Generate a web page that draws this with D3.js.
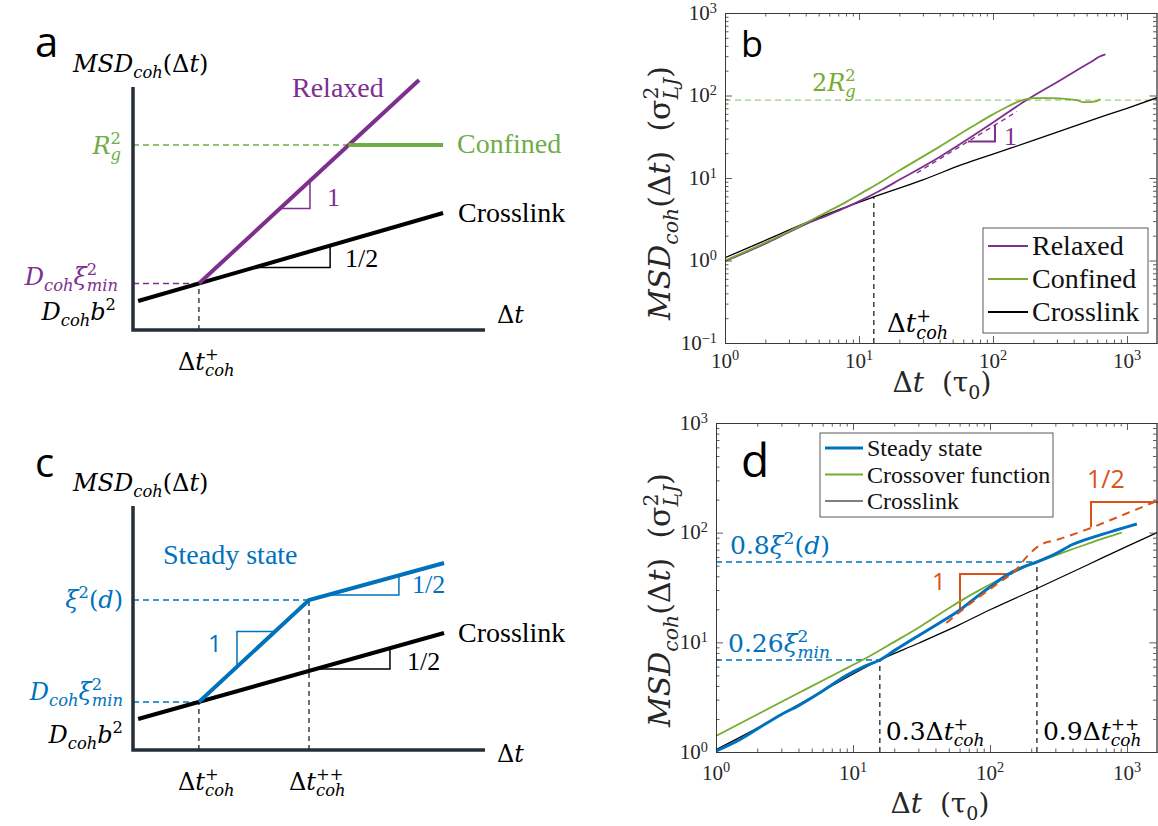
<!DOCTYPE html>
<html>
<head>
<meta charset="utf-8">
<script src="https://cdn.jsdelivr.net/npm/d3@7"></script>
<style>
  body { margin: 0; background: #fff; }
</style>
</head>
<body>
<script>
// ---------- data ----------
// schematic panels (a, c): abstract units, 0..100 on each axis
const aAxis = [[0, 97.2], [0, 0], [110, 0]];
const aCrosslink = [[1.6, 11.6], [96.9, 46.8]];
const aRelaxed = [[20.6, 18.6], [89.4, 100]];
const aConfined = [[67.3, 74], [96.9, 74]];
const aRgLevel = 74, aMinLevel = 18.6, aKnot = 20.6;
const aSlope1 = [[46, 48.6], [55.3, 48.6], [55.3, 59.6]];
const aSlopeHalf = [[38, 25], [61.6, 25], [61.6, 33.7]];

const cAxis = [[0, 97.6], [0, 0], [110, 0]];
const cCrosslink = [[1.6, 12.4], [97.2, 46.8]];
const cSteady = [[20.6, 19.2], [55, 60], [97.2, 74.8]];
const cMinLevel = 19.2, cXiLevel = 60, cKnot1 = 20.6, cKnot2 = 55;
const cSlope1 = [[32.5, 33.3], [32.5, 47.4], [44.4, 47.4]];
const cSlopeHalfBlue = [[60.7, 62], [83.1, 62], [83.1, 69.9]];
const cSlopeHalfBlack = [[57.2, 32.4], [80.3, 32.4], [80.3, 40.7]];

// panel b: MSD vs lag time
const bRelaxedT = [1, 2, 3, 4, 6, 8, 10, 15, 20, 40, 70, 100, 178, 300, 450, 550, 620, 690];
const bRelaxedMSD = [0.98, 1.6, 2.2, 2.75, 3.6, 4.4, 5.2, 7.3, 9.5, 18, 32, 47, 88, 145, 215, 260, 295, 315];
const bConfinedT = [1, 2, 3, 4, 6, 8, 10, 15, 20, 40, 70, 100, 130, 160, 200, 260, 376, 430, 470, 520, 550, 600, 630];
const bConfinedMSD = [1.0, 1.65, 2.25, 2.85, 4.0, 5.1, 6.3, 9.2, 12.3, 24, 42, 59, 74, 86, 93, 93, 90, 87, 83, 83, 84, 86, 91];
const bCrossT = [1, 2, 4, 7, 12.9, 30, 60, 100, 200, 500, 1000, 1675];
const bCrossMSD = [1.08, 1.75, 2.85, 4.1, 5.9, 9.5, 14.7, 19.5, 28.5, 48, 70, 94];
const bRg2 = 88;
const bTplus = 12.9, bTplusMSD = 5.9;
const bRefSlope1 = [[27, 11.5], [151, 64]];
const bTri1 = [[65, 27.7], [103.5, 27.7], [103.5, 44]];

// panel d
const dSteadyT = [1, 1.5, 2, 3, 4, 6, 9, 12, 15.7, 20, 30, 43, 60, 80, 100, 133, 170, 220, 300, 400, 600, 800, 1000, 1180];
const dSteadyMSD = [1.02, 1.3, 1.62, 2.2, 2.65, 3.6, 5.0, 6.0, 6.9, 8.4, 11.5, 15.1, 19.6, 26, 32, 41, 48, 54, 64, 78, 93, 104, 113, 120];
const dCrossoverT = [1, 2, 4, 8, 12, 20, 30, 50, 80, 120, 170, 220, 300, 500, 700, 915];
const dCrossoverMSD = [1.4, 2.2, 3.45, 5.4, 7.0, 10.1, 13.6, 20.5, 29, 38, 47, 54, 62, 78, 90, 100];
const dCrossT = [1, 2, 4, 8, 15.7, 30, 60, 100, 220, 500, 1000, 1656];
const dCrossMSD = [1.05, 1.65, 2.7, 4.4, 6.9, 9.8, 14.5, 19.8, 31, 50, 75, 100];
const dFitT = [48, 80, 120, 150, 196, 232, 307, 500, 800, 1200, 1656];
const dFitMSD = [15, 25, 36, 44, 65, 77, 86, 106, 134, 165, 195];
const dT1 = 15.7, dM1 = 6.9, dT2 = 220, dM2 = 54;
const dTri1 = [[60.4, 19.7], [60.4, 42], [145, 42]];
const dTriHalf = [[546, 112], [546, 190], [1700, 190]];

const legendB = ["Relaxed", "Confined", "Crosslink"];
const legendD = ["Steady state", "Crossover function", "Crosslink"];

// ---------- style ----------
const CM = "'Liberation Serif', 'DejaVu Serif', serif";
const CAMB = "'DejaVu Serif', serif";
const SANS = "'Open Sans', 'Liberation Sans', sans-serif";
const PURPLE = "#7E2F8E", GREEN = "#77AC30", SGREEN = "#70AD47", BLUE = "#0072BD",
      ORANGE = "#D95319", AXDARK = "#252e3b", AX = "#333";
const SP = "\u00A0";

const svg = d3.select("body").append("svg")
    .attr("width", 1158).attr("height", 826)
    .style("background", "#fff");

// text with sub/superscripts, measured piece by piece
function mtext(g, x, y, parts, o = {}) {
    const size = o.size || 24, fam = o.family || CAMB, fill = o.fill || "#000";
    const rise = o.supRise || 0.4;
    const grp = g.append("g");
    let cx = 0;
    const put = (str, dx, dy, fs, it) => {
        const t = grp.append("text")
            .attr("x", dx).attr("y", dy)
            .attr("font-size", fs).attr("font-family", fam)
            .attr("font-style", it ? "italic" : "normal")
            .attr("fill", fill).text(str);
        return t.node().getComputedTextLength();
    };
    parts.forEach(p => {
        if (typeof p === "string") p = {t: p};
        const it = p.it !== undefined ? p.it : !!o.italic;
        if (p.t !== undefined) {
            cx += put(p.t, cx, 0, size, it);
        } else {
            const fs = size * 0.68;
            let w = 0;
            if (p.sup) w = Math.max(w, put(p.sup, cx, -size * rise, fs, p.supIt || false));
            if (p.sub) w = Math.max(w, put(p.sub, cx, size * 0.25, fs, p.subIt !== undefined ? p.subIt : true));
            cx += w + (p.pad || 0);
        }
    });
    const shift = o.anchor === "end" ? -cx : o.anchor === "middle" ? -cx / 2 : 0;
    grp.attr("transform", `translate(${x},${y}) rotate(${o.rotate || 0}) translate(${shift},0)`);
    return grp;
}

const MSDcoh = [{t: "MSD", it: true}, {sub: "coh"}, {t: "(Δ", it: false}, {t: "t", it: true}, {t: ")", it: false}];

// ---------- schematic panels ----------
function schematic(yBottom) {
    const sx = d3.scaleLinear().domain([0, 100]).range([133, 453]);
    const sy = d3.scaleLinear().domain([0, 100]).range([yBottom, yBottom - 250]);
    const line = d3.line().x(d => sx(d[0])).y(d => sy(d[1]));
    return {sx, sy, line};
}

function drawPath(g, line, data, color, width, dash) {
    g.append("path").attr("d", line(data))
        .attr("fill", "none").attr("stroke", color)
        .attr("stroke-width", width)
        .attr("stroke-dasharray", dash || null)
        .attr("stroke-linejoin", "miter");
}

function serif(g, x, y, str, size, color) {
    g.append("text").attr("x", x).attr("y", y).attr("font-family", CM)
        .attr("font-size", size).attr("fill", color).text(str);
}

// panel a
{
    const g = svg.append("g");
    const {sy, line} = schematic(330);
    drawPath(g, line, [[0, aRgLevel], [aConfined[0][0], aRgLevel]], SGREEN, 1.3, "6,4");
    drawPath(g, line, [[0, aMinLevel], [aKnot, aMinLevel]], PURPLE, 1.3, "6,4");
    drawPath(g, line, [[aKnot, 0], [aKnot, aMinLevel]], "#222", 1.3, "5,4");
    drawPath(g, line, aSlope1, PURPLE, 1.5);
    drawPath(g, line, aSlopeHalf, "#000", 1.5);
    drawPath(g, line, aCrosslink, "#000", 4);
    drawPath(g, line, aRelaxed, PURPLE, 4);
    drawPath(g, line, aConfined, SGREEN, 4);
    drawPath(g, line, aAxis, AXDARK, 3.5);

    g.append("text").attr("x", 35).attr("y", 57).attr("font-family", SANS)
        .attr("font-size", 42).text("a");
    mtext(g, 73, 72, MSDcoh, {size: 24, italic: true});
    serif(g, 292, 97, "Relaxed", 28, PURPLE);
    serif(g, 457, 153, "Confined", 28, SGREEN);
    serif(g, 458, 222, "Crosslink", 28, "#000");
    serif(g, 327, 206, "1", 26, PURPLE);
    serif(g, 345, 267, "1/2", 26, "#000");
    mtext(g, 121, sy(aRgLevel) + 9, [{t: "R", it: true}, {sup: "2", sub: "g"}],
        {size: 24, fill: SGREEN, anchor: "end"});
    mtext(g, 118, sy(aMinLevel) + 1, [{t: "D", it: true}, {sub: "coh"}, {t: "ξ", it: true}, {sup: "2", sub: "min"}],
        {size: 24, fill: PURPLE, anchor: "end"});
    mtext(g, 116, 320, [{t: "D", it: true}, {sub: "coh"}, {t: "b", it: true}, {sup: "2"}],
        {size: 24, fill: "#000", anchor: "end"});
    mtext(g, 178, 370, [{t: "Δ"}, {t: "t", it: true}, {sup: "+", sub: "coh"}], {size: 24});
    mtext(g, 497, 323, [{t: "Δ"}, {t: "t", it: true}], {size: 24});
}

// panel c
{
    const g = svg.append("g");
    const {sy, line} = schematic(750);
    drawPath(g, line, [[0, cXiLevel], [cKnot2, cXiLevel]], BLUE, 1.3, "6,4");
    drawPath(g, line, [[0, cMinLevel], [cKnot1, cMinLevel]], BLUE, 1.3, "6,4");
    drawPath(g, line, [[cKnot1, 0], [cKnot1, cMinLevel]], "#222", 1.3, "5,4");
    drawPath(g, line, [[cKnot2, 0], [cKnot2, cXiLevel]], "#222", 1.3, "5,4");
    drawPath(g, line, cSlope1, BLUE, 1.5);
    drawPath(g, line, cSlopeHalfBlue, BLUE, 1.5);
    drawPath(g, line, cSlopeHalfBlack, "#000", 1.5);
    drawPath(g, line, cCrosslink, "#000", 4);
    drawPath(g, line, cSteady, BLUE, 4);
    drawPath(g, line, cAxis, AXDARK, 3.5);

    g.append("text").attr("x", 35).attr("y", 477).attr("font-family", SANS)
        .attr("font-size", 40).text("c");
    mtext(g, 73, 491, MSDcoh, {size: 24, italic: true});
    serif(g, 163, 564, "Steady state", 28, BLUE);
    serif(g, 458, 642, "Crosslink", 28, "#000");
    g.append("text").attr("x", 208).attr("y", 652).attr("font-family", SANS)
        .attr("font-size", 24).attr("fill", BLUE).text("1");
    serif(g, 412, 593, "1/2", 26, BLUE);
    serif(g, 407, 670, "1/2", 26, "#000");
    mtext(g, 123, sy(cXiLevel) + 8, [{t: "ξ", it: true}, {sup: "2"}, {t: "("}, {t: "d", it: true}, {t: ")"}],
        {size: 24, fill: BLUE, anchor: "end"});
    mtext(g, 123, sy(cMinLevel) - 2, [{t: "D", it: true}, {sub: "coh"}, {t: "ξ", it: true}, {sup: "2", sub: "min"}],
        {size: 24, fill: BLUE, anchor: "end"});
    mtext(g, 123, 743, [{t: "D", it: true}, {sub: "coh"}, {t: "b", it: true}, {sup: "2"}],
        {size: 24, fill: "#000", anchor: "end"});
    mtext(g, 178, 790, [{t: "Δ"}, {t: "t", it: true}, {sup: "+", sub: "coh"}], {size: 24});
    mtext(g, 289, 790, [{t: "Δ"}, {t: "t", it: true}, {sup: "++", sub: "coh"}], {size: 24});
    mtext(g, 497, 762, [{t: "Δ"}, {t: "t", it: true}], {size: 24});
}

// ---------- log-log panels ----------
function logAxes(g, sx, sy, xExp, yExp, o) {
    const [x0, x1] = sx.range(), [y0, y1] = sy.range();
    const xMaj = xExp.map(e => Math.pow(10, e));
    const yMaj = yExp.map(e => Math.pow(10, e));
    const minors = (lo, hi) => {
        const out = [];
        for (let e = Math.floor(Math.log10(lo)); e <= Math.ceil(Math.log10(hi)); e++)
            for (let k = 2; k <= 9; k++) {
                const v = k * Math.pow(10, e);
                if (v > lo && v < hi) out.push(v);
            }
        return out;
    };
    const xMin = minors(...sx.domain()), yMin = minors(...sy.domain());
    const style = sel => {
        sel.selectAll("path, line").attr("stroke", AX).attr("stroke-width", 0.8);
        sel.selectAll("text").remove();
    };
    const add = (axis, tr) => g.append("g").attr("transform", tr).call(axis).call(style);
    add(d3.axisBottom(sx).tickValues(xMaj).tickSize(-7).tickSizeOuter(0).tickFormat(""), `translate(0,${y0})`);
    add(d3.axisBottom(sx).tickValues(xMin).tickSize(-3.5).tickSizeOuter(0).tickFormat(""), `translate(0,${y0})`);
    add(d3.axisTop(sx).tickValues(xMaj).tickSize(-7).tickSizeOuter(0).tickFormat(""), `translate(0,${y1})`);
    add(d3.axisTop(sx).tickValues(xMin).tickSize(-3.5).tickSizeOuter(0).tickFormat(""), `translate(0,${y1})`);
    add(d3.axisLeft(sy).tickValues(yMaj).tickSize(-7).tickSizeOuter(0).tickFormat(""), `translate(${x0},0)`);
    add(d3.axisLeft(sy).tickValues(yMin).tickSize(-3.5).tickSizeOuter(0).tickFormat(""), `translate(${x0},0)`);
    add(d3.axisRight(sy).tickValues(yMaj).tickSize(-7).tickSizeOuter(0).tickFormat(""), `translate(${x1 - 0.5},0)`);
    add(d3.axisRight(sy).tickValues(yMin).tickSize(-3.5).tickSizeOuter(0).tickFormat(""), `translate(${x1 - 0.5},0)`);

    const expLab = e => ["10", {sup: e < 0 ? "−" + (-e) : String(e)}];
    xExp.forEach(e => mtext(g, sx(Math.pow(10, e)), y0 + o.xLabDy, expLab(e),
        {family: CM, size: 21, fill: "#262626", anchor: "middle", supRise: 0.36}));
    yExp.forEach(e => mtext(g, x0 - o.yLabDx, sy(Math.pow(10, e)) + 6.5, expLab(e),
        {family: CM, size: 21, fill: "#262626", anchor: "end", supRise: 0.33}));

    // axis titles
    mtext(g, o.yTitle[0], o.yTitle[1],
        [{t: "MSD", it: true}, {sub: "coh"}, {t: "(Δ"}, {t: "t", it: true}, {t: ")" + SP + SP + "(σ"},
         {sup: "2", sub: "LJ"}, {t: ")"}],
        {family: CAMB, size: 30, fill: "#262626", anchor: "middle", rotate: -90});
    mtext(g, o.xTitle[0], o.xTitle[1],
        [{t: "Δ"}, {t: "t", it: true}, {t: SP + SP + "(τ"}, {sub: "0", subIt: false}, {t: ")"}],
        {family: CAMB, size: 28, fill: "#262626", anchor: "middle"});
}

const zip = (a, b) => a.map((v, i) => [v, b[i]]);

// panel b
{
    const g = svg.append("g");
    const sx = d3.scaleLog().domain([1, 1675]).range([725, 1157]);
    const sy = d3.scaleLog().domain([0.1, 1000]).range([343, 13]);
    const line = d3.line().x(d => sx(d[0])).y(d => sy(d[1])).curve(d3.curveMonotoneX);
    const plain = d3.line().x(d => sx(d[0])).y(d => sy(d[1]));
    svg.append("clipPath").attr("id", "clipB").append("rect")
        .attr("x", 725).attr("y", 13).attr("width", 432).attr("height", 330);
    const p = g.append("g").attr("clip-path", "url(#clipB)");

    p.append("path").attr("d", plain([[1, bRg2], [1675, bRg2]]))
        .attr("stroke", "#9acb7a").attr("stroke-width", 1.2).attr("stroke-dasharray", "6,4").attr("fill", "none");
    p.append("path").attr("d", plain([[bTplus, 0.1], [bTplus, bTplusMSD]]))
        .attr("stroke", "#222").attr("stroke-width", 1.3).attr("stroke-dasharray", "5,4").attr("fill", "none");
    p.append("path").attr("d", plain(bRefSlope1))
        .attr("stroke", PURPLE).attr("stroke-width", 1.3).attr("stroke-dasharray", "5,4").attr("fill", "none");
    p.append("path").attr("d", plain(bTri1))
        .attr("stroke", PURPLE).attr("stroke-width", 2).attr("fill", "none");

    [[bCrossT, bCrossMSD, "#000", 1.3], [bRelaxedT, bRelaxedMSD, PURPLE, 1.8], [bConfinedT, bConfinedMSD, GREEN, 1.8]]
        .forEach(([t, m, c, w]) => p.append("path").attr("d", line(zip(t, m)))
            .attr("fill", "none").attr("stroke", c).attr("stroke-width", w));

    logAxes(g, sx, sy, [0, 1, 2, 3], [-1, 0, 1, 2, 3],
        {xLabDy: 25, yLabDx: 8, yTitle: [670, 193], xTitle: [942, 392]});

    g.append("text").attr("x", 741).attr("y", 57).attr("font-family", SANS)
        .attr("font-size", 36).text("b");
    mtext(g, 812, 91, ["2", {t: "R", it: true}, {sup: "2", sub: "g"}], {size: 24, fill: GREEN});
    serif(g, 1004, 145, "1", 26, PURPLE);
    mtext(g, 887, 332, [{t: "Δ"}, {t: "t", it: true}, {sup: "+", sub: "coh"}], {size: 26});

    // legend
    const lg = g.append("g");
    lg.append("rect").attr("x", 983).attr("y", 228).attr("width", 165).attr("height", 105)
        .attr("fill", "#fff").attr("stroke", "#333").attr("stroke-width", 0.8);
    [PURPLE, GREEN, "#000"].forEach((c, i) => {
        const y = 246 + i * 33;
        lg.append("line").attr("x1", 988).attr("x2", 1028).attr("y1", y).attr("y2", y)
            .attr("stroke", c).attr("stroke-width", 1.8);
        serif(lg, 1032, y + 9, legendB[i], 28, "#111");
    });
}

// panel d
{
    const g = svg.append("g");
    const sx = d3.scaleLog().domain([1, 1656]).range([716, 1157]);
    const sy = d3.scaleLog().domain([1, 1000]).range([752, 423]);
    const line = d3.line().x(d => sx(d[0])).y(d => sy(d[1])).curve(d3.curveMonotoneX);
    const plain = d3.line().x(d => sx(d[0])).y(d => sy(d[1]));
    svg.append("clipPath").attr("id", "clipD").append("rect")
        .attr("x", 716).attr("y", 423).attr("width", 442).attr("height", 329);
    const p = g.append("g").attr("clip-path", "url(#clipD)");

    const dashed = (data, c, w, dash) => p.append("path").attr("d", plain(data))
        .attr("stroke", c).attr("stroke-width", w).attr("stroke-dasharray", dash).attr("fill", "none");
    dashed([[1, dM2], [dT2, dM2]], BLUE, 1.3, "6,4");
    dashed([[1, dM1], [dT1, dM1]], BLUE, 1.3, "6,4");
    dashed([[dT1, 1], [dT1, dM1]], "#222", 1.3, "5,4");
    dashed([[dT2, 1], [dT2, dM2]], "#222", 1.3, "5,4");
    p.append("path").attr("d", plain(dTri1)).attr("stroke", ORANGE).attr("stroke-width", 2).attr("fill", "none");
    p.append("path").attr("d", plain(dTriHalf)).attr("stroke", ORANGE).attr("stroke-width", 2).attr("fill", "none");

    [[dCrossT, dCrossMSD, "#000", 1.2], [dCrossoverT, dCrossoverMSD, GREEN, 1.8], [dSteadyT, dSteadyMSD, BLUE, 3]]
        .forEach(([t, m, c, w]) => p.append("path").attr("d", line(zip(t, m)))
            .attr("fill", "none").attr("stroke", c).attr("stroke-width", w));
    p.append("path").attr("d", line(zip(dFitT, dFitMSD)))
        .attr("fill", "none").attr("stroke", ORANGE).attr("stroke-width", 2).attr("stroke-dasharray", "8,6");

    logAxes(g, sx, sy, [0, 1, 2, 3], [0, 1, 2, 3],
        {xLabDy: 28, yLabDx: 8, yTitle: [670, 600], xTitle: [940, 813]});

    g.append("text").attr("x", 741).attr("y", 477).attr("font-family", SANS)
        .attr("font-size", 46).text("d");
    mtext(g, 730, sy(dM2) - 8, ["0.8", {t: "ξ", it: true}, {sup: "2"}, "(", {t: "d", it: true}, ")"],
        {size: 25, fill: BLUE});
    mtext(g, 728, sy(dM1) - 8, ["0.26", {t: "ξ", it: true}, {sup: "2", sub: "min"}], {size: 25, fill: BLUE});
    mtext(g, sx(dT1) + 6, 740, ["0.3Δ", {t: "t", it: true}, {sup: "+", sub: "coh"}], {size: 25});
    mtext(g, sx(dT2) + 6, 740, ["0.9Δ", {t: "t", it: true}, {sup: "++", sub: "coh"}], {size: 25});
    g.append("text").attr("x", 932).attr("y", 590).attr("font-family", SANS)
        .attr("font-size", 24).attr("fill", ORANGE).text("1");
    g.append("text").attr("x", 1087).attr("y", 488).attr("font-family", SANS)
        .attr("font-size", 25).attr("fill", ORANGE).text("1/2");

    // legend
    const lg = g.append("g");
    lg.append("rect").attr("x", 820).attr("y", 433).attr("width", 233).attr("height", 84)
        .attr("fill", "#fff").attr("stroke", "#333").attr("stroke-width", 0.8);
    [[BLUE, 3], [GREEN, 1.8], ["#000", 1.2]].forEach(([c, w], i) => {
        const y = 448 + i * 26.5;
        lg.append("line").attr("x1", 825).attr("x2", 863).attr("y1", y).attr("y2", y)
            .attr("stroke", c).attr("stroke-width", w);
        serif(lg, 867, y + 8, legendD[i], 24, "#111");
    });
}
</script>
</body>
</html>
